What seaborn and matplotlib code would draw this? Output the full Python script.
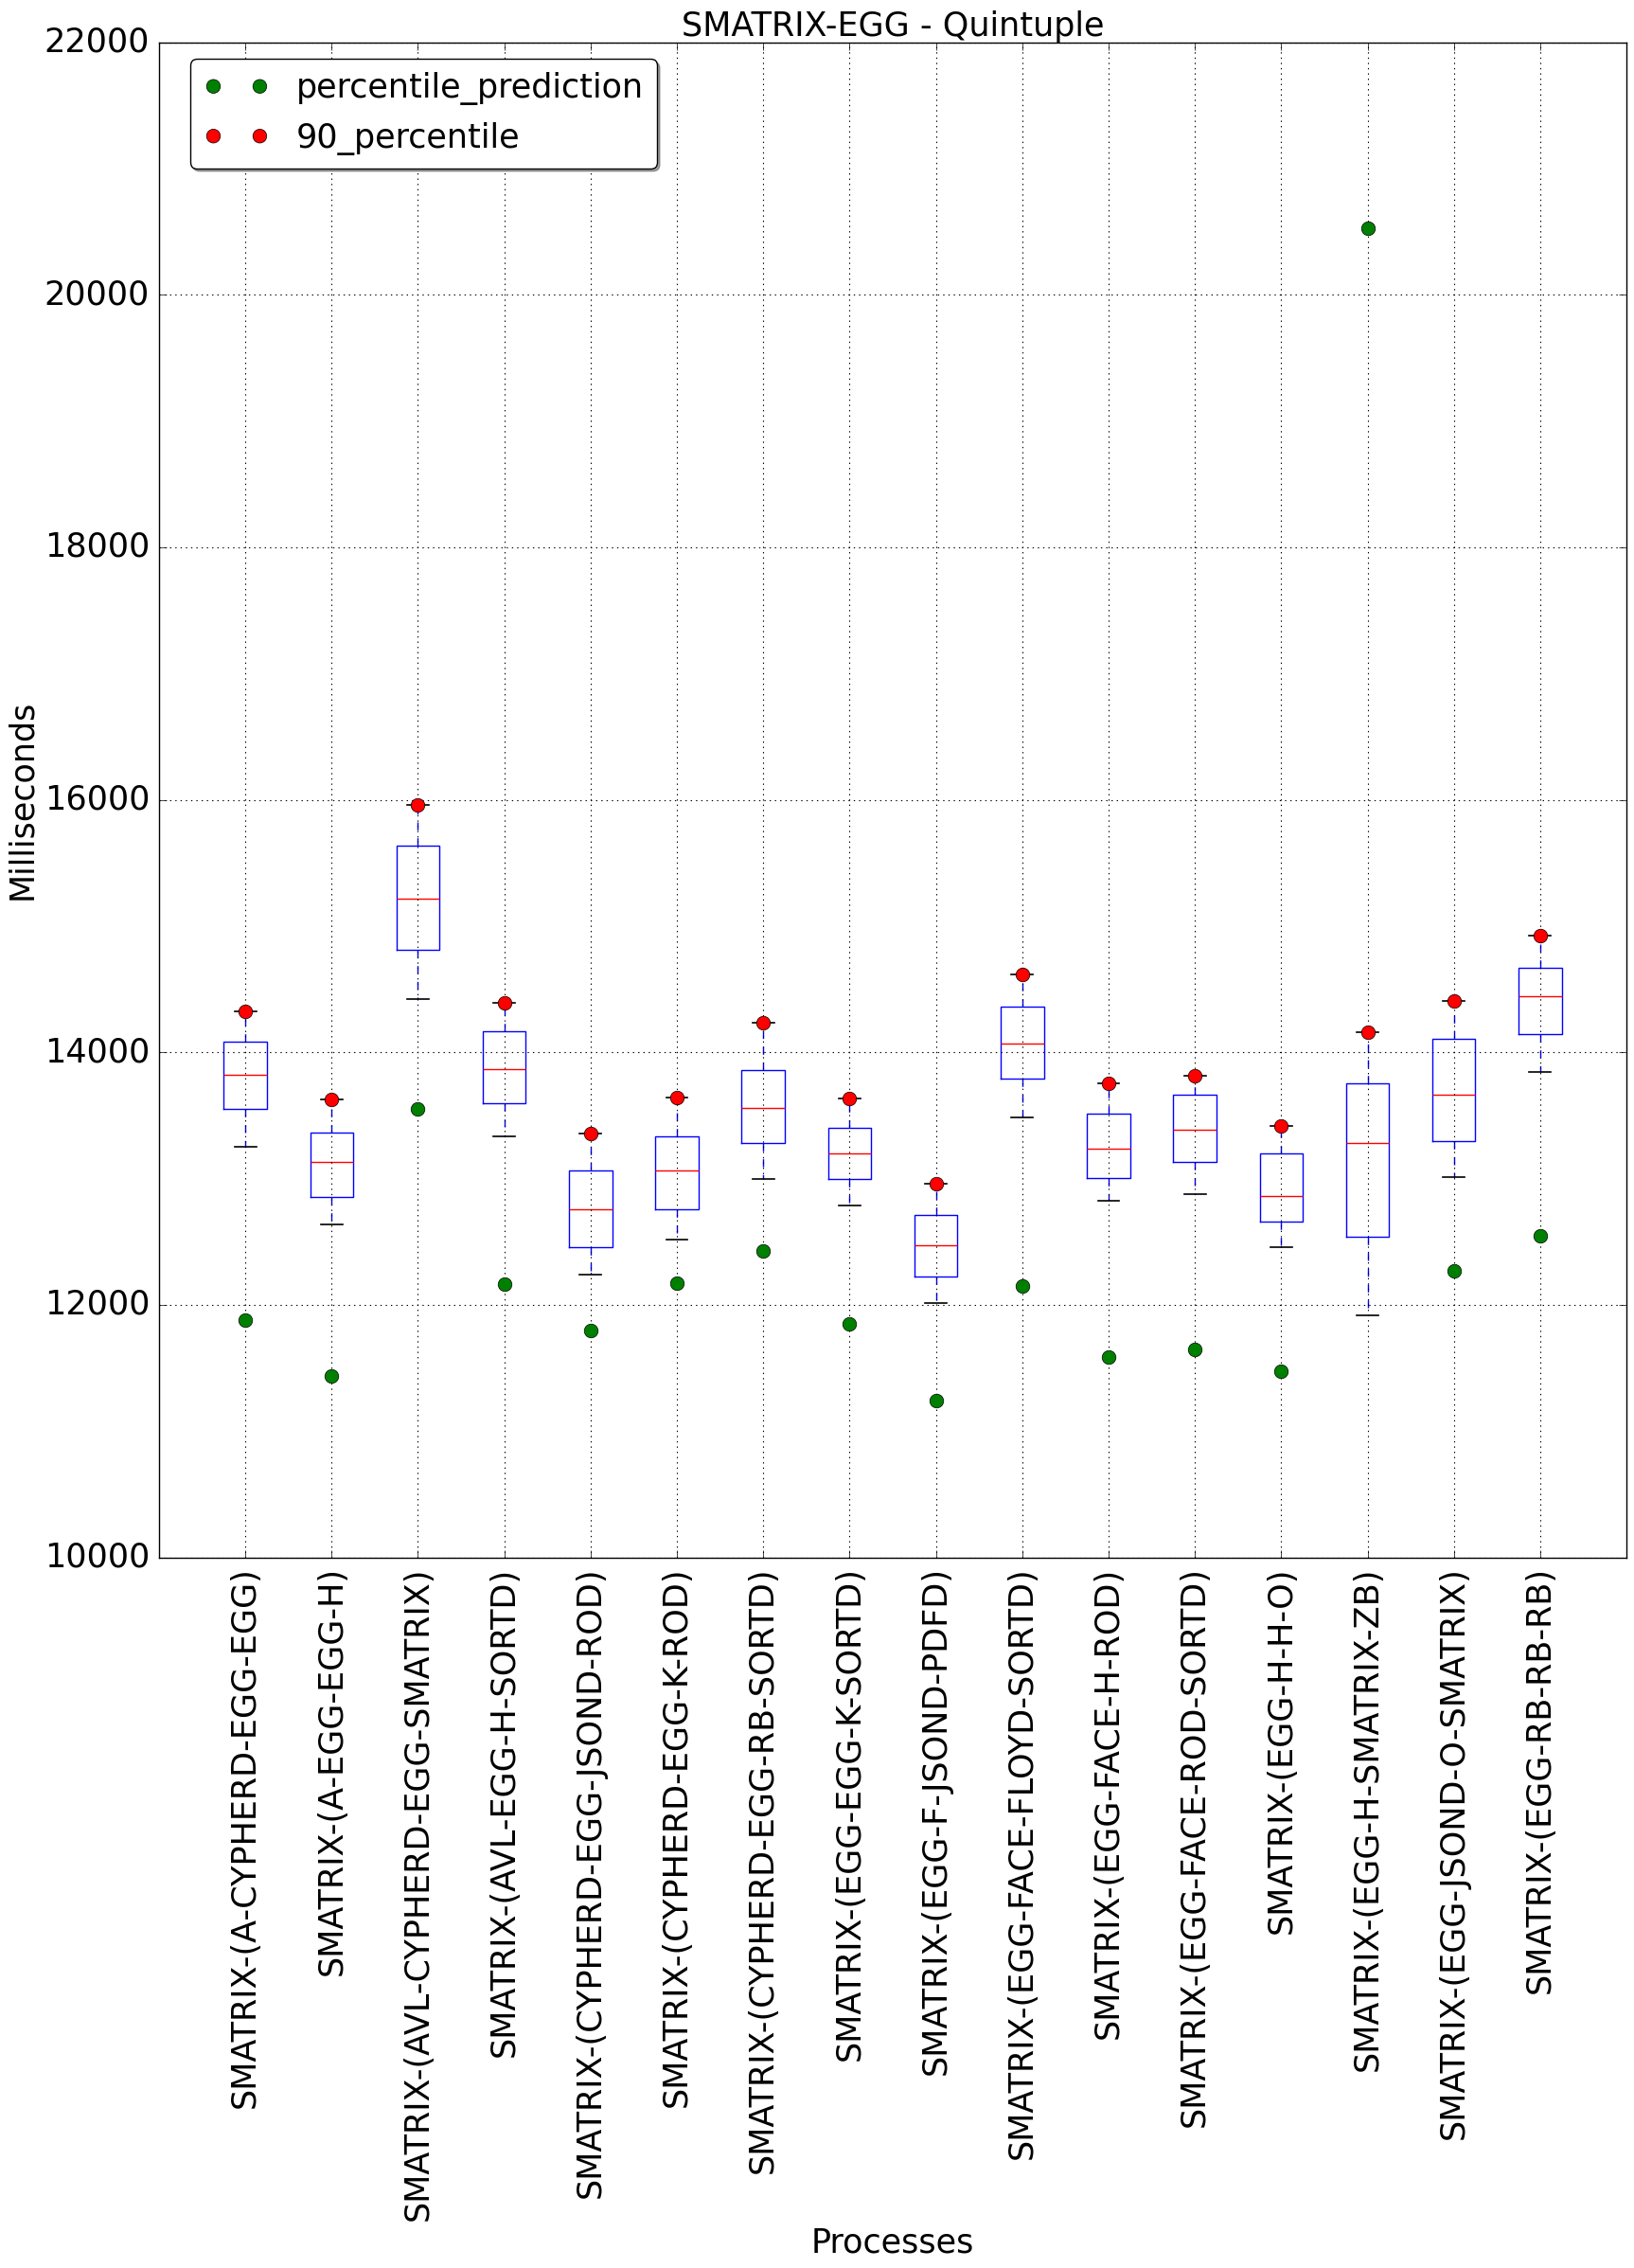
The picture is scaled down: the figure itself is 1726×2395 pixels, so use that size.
import numpy as np
import pandas as pd
import matplotlib
matplotlib.use("Agg")
import matplotlib.pyplot as plt
import seaborn as sns

plt.style.use("classic")
plt.rcParams["font.size"] = 25.2
plt.rcParams["font.family"] = ["DejaVu Sans"]

processes = [
    "SMATRIX-(A-CYPHERD-EGG-EGG)",
    "SMATRIX-(A-EGG-EGG-H)",
    "SMATRIX-(AVL-CYPHERD-EGG-SMATRIX)",
    "SMATRIX-(AVL-EGG-H-SORTD)",
    "SMATRIX-(CYPHERD-EGG-JSOND-ROD)",
    "SMATRIX-(CYPHERD-EGG-K-ROD)",
    "SMATRIX-(CYPHERD-EGG-RB-SORTD)",
    "SMATRIX-(EGG-EGG-K-SORTD)",
    "SMATRIX-(EGG-F-JSOND-PDFD)",
    "SMATRIX-(EGG-FACE-FLOYD-SORTD)",
    "SMATRIX-(EGG-FACE-H-ROD)",
    "SMATRIX-(EGG-FACE-ROD-SORTD)",
    "SMATRIX-(EGG-H-H-O)",
    "SMATRIX-(EGG-H-SMATRIX-ZB)",
    "SMATRIX-(EGG-JSOND-O-SMATRIX)",
    "SMATRIX-(EGG-RB-RB-RB)",
]

# box statistics (ms)
whisker_low = [13250, 12640, 14419, 13333, 12238, 12516, 12995, 12784,
               12017, 13481, 12827, 12874, 12456, 11920, 13015, 13843]
q1 = [13551, 12851, 14811, 13595, 12459, 12754, 13280, 12995,
      12221, 13789, 13002, 13129, 12657, 12536, 13300, 14147]
median = [13822, 13129, 15216, 13866, 12760, 13062, 13561, 13196,
          12469, 14067, 13240, 13384, 12864, 13280, 13662, 14442]
q3 = [14087, 13367, 15635, 14164, 13062, 13337, 13856, 13404,
      12710, 14365, 13511, 13662, 13196, 13752, 14104, 14673]
whisker_high = [14328, 13628, 15956, 14392, 13357, 13641, 14238, 13635,
                12958, 14616, 13752, 13816, 13420, 14157, 14405, 14921]

percentile_prediction = [11876, 11434, 13551, 12164, 11799, 12171, 12425, 11846,
                         11246, 12147, 11585, 11645, 11474, 20530, 12271, 12546]
percentile_90 = [14328, 13628, 15956, 14392, 13357, 13641, 14238, 13635,
                 12958, 14616, 13752, 13816, 13420, 14157, 14405, 14921]

# five values per process -> quartiles and min/max whiskers come out exactly
df = pd.DataFrame({
    "Process": np.repeat(processes, 5),
    "Milliseconds": np.column_stack([whisker_low, q1, median, q3, whisker_high]).ravel(),
})

fig = plt.figure(figsize=(17.26, 23.95), dpi=100, facecolor="white")
ax = fig.add_axes([0.0973, 0.3133, 0.8981, 0.6681])

sns.boxplot(data=df, x="Process", y="Milliseconds", order=processes,
            whis=(0, 100), width=0.5, fill=False, color="blue", linewidth=1.0,
            showfliers=False,
            medianprops=dict(color="red", linewidth=1.0),
            whiskerprops=dict(color="blue", linestyle="--", linewidth=1.0),
            capprops=dict(color="black", linewidth=1.2),
            ax=ax)

sns.scatterplot(x=processes, y=percentile_prediction, color="green",
                edgecolor="black", linewidth=0.5, s=110,
                label="percentile_prediction", ax=ax, zorder=3)
sns.scatterplot(x=processes, y=percentile_90, color="red",
                edgecolor="black", linewidth=0.5, s=110,
                label="90_percentile", ax=ax, zorder=3)

ax.set_xlim(-1, 16)
ax.set_ylim(10000, 22000)
ax.set_yticks(range(10000, 22001, 2000))
ax.grid(True, color="black", linestyle=":", linewidth=0.8)
ax.set_axisbelow(False)
ax.tick_params(axis="x", labelrotation=90)
ax.tick_params(axis="both", which="major", pad=7, length=6)

ax.set_title("SMATRIX-EGG - Quintuple", fontsize=25.2, pad=5)
ax.set_xlabel("Processes", fontsize=25.2)
ax.set_ylabel("Milliseconds", fontsize=25.2)

ax.legend(loc="upper left", bbox_to_anchor=(0.0213, 0.9888), borderaxespad=0,
          scatterpoints=2, scatteryoffsets=[0.5], fancybox=True, shadow=True,
          fontsize=25.2)

fig.savefig("out.png", dpi=100, facecolor="white")
